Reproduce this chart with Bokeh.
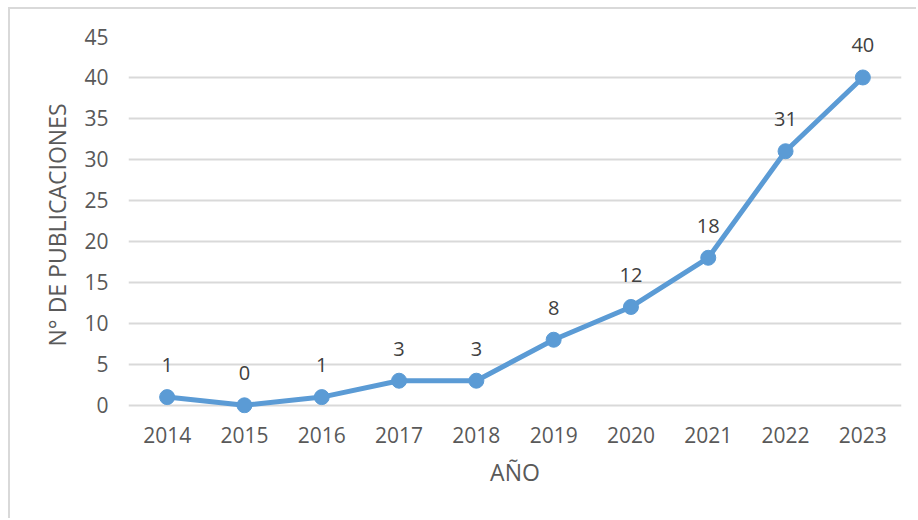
from bokeh.plotting import figure
from bokeh.models import ColumnDataSource, FixedTicker, LabelSet
from bokeh.core.properties import value
from bokeh.embed import file_html
from bokeh.resources import INLINE

years = ["2014", "2015", "2016", "2017", "2018", "2019", "2020", "2021", "2022", "2023"]
counts = [1, 0, 1, 3, 3, 8, 12, 18, 31, 40]
y_ticks = [0, 5, 10, 15, 20, 25, 30, 35, 40, 45]

FONT = "Open Sans"
TXT = "#595959"
BLUE = "#5B9BD5"

src = ColumnDataSource(dict(x=years, y=counts, lab=[str(c) for c in counts]))

p = figure(x_range=years, y_range=(-1, 45), width=908, height=511,
           output_backend="svg", toolbar_location=None,
           min_border_left=118, min_border_right=17, min_border_top=27, min_border_bottom=107)
p.styles = {"margin-left": "8px", "margin-top": "7px",
            "border-left": "2px solid #d9d9d9", "border-top": "2px solid #d9d9d9"}
p.outline_line_color = None
p.background_fill_color = "white"
p.border_fill_color = "white"

p.line("x", "y", source=src, line_color=BLUE, line_width=5)
p.scatter("x", "y", source=src, size=15, fill_color=BLUE, line_color=BLUE)

labels = LabelSet(x="x", y="y", text="lab", source=src, y_offset=32,
                  text_align="center", text_baseline="middle",
                  text_font=value(FONT), text_font_size="20px", text_color="#404040")
p.add_layout(labels)

p.yaxis.ticker = FixedTicker(ticks=y_ticks)
p.ygrid.grid_line_color = "#d9d9d9"
p.ygrid.grid_line_width = 2
p.xgrid.grid_line_color = None

for ax in (p.xaxis[0], p.yaxis[0]):
    ax.axis_line_color = None
    ax.major_tick_line_color = None
    ax.minor_tick_line_color = None
    ax.major_tick_out = 0
    ax.major_tick_in = 0
    ax.major_label_text_font = FONT
    ax.major_label_text_font_size = "21px"
    ax.major_label_text_color = TXT
    ax.axis_label_text_font = FONT
    ax.axis_label_text_font_size = "23px"
    ax.axis_label_text_font_style = "normal"
    ax.axis_label_text_color = TXT

p.xaxis.axis_label = "AÑO"
p.yaxis.axis_label = "N° DE PUBLICACIONES"
p.xaxis.major_label_standoff = 13
p.xaxis.axis_label_standoff = 10
p.yaxis.major_label_standoff = 20
p.yaxis.axis_label_standoff = 8

open("out.html", "w").write(file_html(p, INLINE))
